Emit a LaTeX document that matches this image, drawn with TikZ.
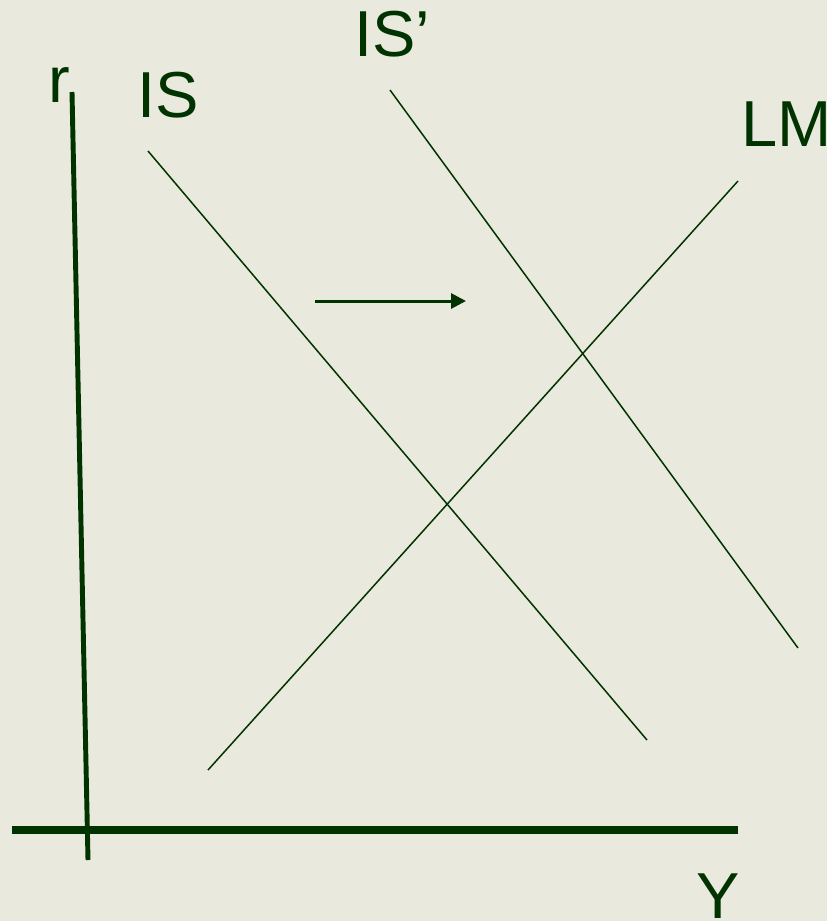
\documentclass[tikz,border=0pt]{standalone}
\usepackage{xcolor}
\usepackage{fontspec}
\setmainfont{Liberation Sans}
\usetikzlibrary{arrows.meta}
\definecolor{ISGreen}{HTML}{003300}
\definecolor{ISBack}{HTML}{E9E9DD}

\begin{document}
\begin{tikzpicture}[x=0.02cm,y=-0.02cm,
  lbl/.style={anchor=base,text=ISGreen,inner sep=0pt,font=\fontsize{37}{44}\selectfont},
  curve/.style={ISGreen,line width=0.85pt}]
\fill[ISBack] (0,0) rectangle (827,921);
\path[use as bounding box] (0,0) rectangle (827,921);
% axes
\coordinate (rtop) at (72,92);
\coordinate (rbot) at (88,860);
\coordinate (yleft) at (12,830);
\coordinate (yright) at (738,830);
\draw[ISGreen,line width=2.8pt] (rtop) -- (rbot);
\draw[ISGreen,line width=4.5pt] (yleft) -- (yright);
% curves
\coordinate (is1) at (148,151);
\coordinate (is2) at (647,740);
\coordinate (isp1) at (390,90);
\coordinate (isp2) at (798,648);
\coordinate (lm1) at (208,770);
\coordinate (lm2) at (738,181);
\draw[curve] (is1) -- (is2);
\draw[curve] (isp1) -- (isp2);
\draw[curve] (lm1) -- (lm2);
% shift
\coordinate (sh1) at (315,301);
\coordinate (sh2) at (466,301);
\draw[ISGreen,line width=1.7pt,-{Triangle[length=0.3cm,width=0.3cm]}] (sh1) -- (sh2);
% labels
\node[lbl] (rlab) at (59,102) {r};
\node[lbl] (islab) at (168,117) {IS};
\node[lbl] (isplab) at (392,56) {IS’};
\node[lbl] (lmlab) at (787,146) {LM};
\node[lbl] (ylab) at (718,918) {Y};
\end{tikzpicture}
\end{document}
